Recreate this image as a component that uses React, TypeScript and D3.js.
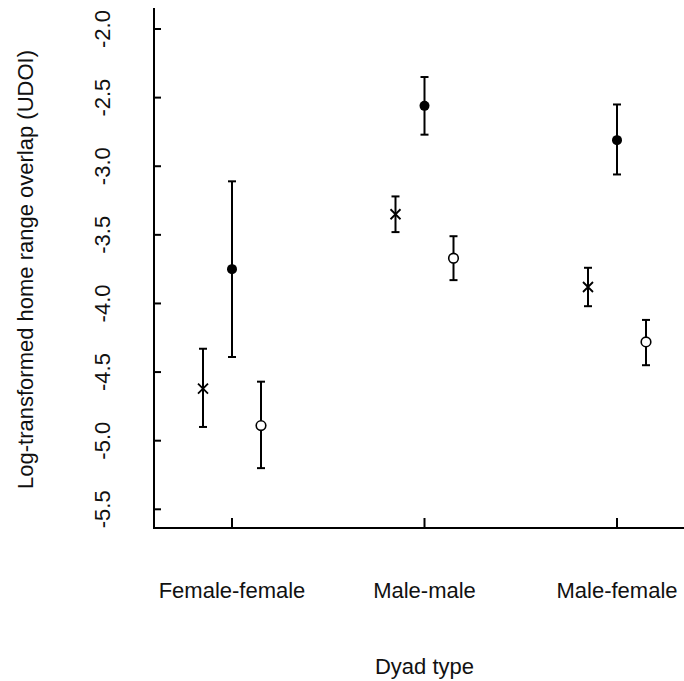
import React from "react";
import * as d3 from "d3";

const categories = ["Female-female", "Male-male", "Male-female"];
const yTicks = [-2.0, -2.5, -3.0, -3.5, -4.0, -4.5, -5.0, -5.5];

// Series: cross (x), filled circle, open circle
const crossMean = [-4.62, -3.35, -3.88];
const crossLow = [-4.9, -3.48, -4.02];
const crossHigh = [-4.33, -3.22, -3.74];

const filledMean = [-3.75, -2.56, -2.81];
const filledLow = [-4.39, -2.77, -3.06];
const filledHigh = [-3.11, -2.35, -2.55];

const openMean = [-4.89, -3.67, -4.28];
const openLow = [-5.2, -3.83, -4.45];
const openHigh = [-4.57, -3.51, -4.12];

const W = 684;
const H = 681;
const FONT = "'Liberation Sans', Arial, Helvetica, sans-serif";

export default function App() {
  const y = d3.scaleLinear().domain([-5.5, -2.0]).range([509.3, 29]);
  const x = d3.scalePoint<string>().domain(categories).range([232, 617]);
  const left = 154;
  const bottom = 528;
  const yTop = y(-1.847);

  const series = [
    { kind: "cross", dx: -29, mean: crossMean, low: crossLow, high: crossHigh },
    { kind: "filled", dx: 0, mean: filledMean, low: filledLow, high: filledHigh },
    { kind: "open", dx: 29, mean: openMean, low: openLow, high: openHigh },
  ];

  return (
    <svg
      width={W}
      height={H}
      style={{ position: "absolute", left: 0, top: 0, background: "#fff" }}
      fontFamily={FONT}
    >
      <rect x={0} y={0} width={W} height={H} fill="#fff" />
      {/* axes */}
      <line x1={left} x2={left} y1={yTop} y2={bottom + 1} stroke="#000" strokeWidth={2} />
      <line x1={left - 1} x2={W} y1={bottom} y2={bottom} stroke="#000" strokeWidth={2} />
      {yTicks.map((t) => (
        <g key={t}>
          <line x1={left} x2={left + 7} y1={y(t)} y2={y(t)} stroke="#000" strokeWidth={2} />
          <text
            transform={`translate(110,${y(t)}) rotate(-90)`}
            textAnchor="middle"
            fontSize={22}
            fill="#111"
          >
            {t.toFixed(1)}
          </text>
        </g>
      ))}
      {categories.map((c) => (
        <g key={c}>
          <line x1={x(c)} x2={x(c)} y1={bottom} y2={bottom - 10} stroke="#000" strokeWidth={2} />
          <text x={x(c)} y={598} textAnchor="middle" fontSize={22} fill="#111">
            {c}
          </text>
        </g>
      ))}
      <text x={x("Male-male")} y={674} textAnchor="middle" fontSize={22} fill="#111">
        Dyad type
      </text>
      <text
        transform={`translate(33,269.5) rotate(-90)`}
        textAnchor="middle"
        fontSize={22}
        fill="#111"
      >
        Log-transformed home range overlap (UDOI)
      </text>
      {/* error bars and points */}
      {series.map((s) =>
        categories.map((c, i) => {
          const cx = (x(c) as number) + s.dx;
          const cy = y(s.mean[i]);
          return (
            <g key={s.kind + c}>
              <line x1={cx} x2={cx} y1={y(s.low[i])} y2={y(s.high[i])} stroke="#000" strokeWidth={2} />
              <line x1={cx - 4} x2={cx + 4} y1={y(s.low[i])} y2={y(s.low[i])} stroke="#000" strokeWidth={2} />
              <line x1={cx - 4} x2={cx + 4} y1={y(s.high[i])} y2={y(s.high[i])} stroke="#000" strokeWidth={2} />
              {s.kind === "filled" && <circle cx={cx} cy={cy} r={5} fill="#000" />}
              {s.kind === "open" && (
                <circle cx={cx} cy={cy} r={4.8} fill="#fff" stroke="#000" strokeWidth={1.6} />
              )}
              {s.kind === "cross" && (
                <path
                  d={`M${cx - 5},${cy - 5}L${cx + 5},${cy + 5}M${cx - 5},${cy + 5}L${cx + 5},${cy - 5}`}
                  stroke="#000"
                  strokeWidth={1.8}
                />
              )}
            </g>
          );
        })
      )}
    </svg>
  );
}
